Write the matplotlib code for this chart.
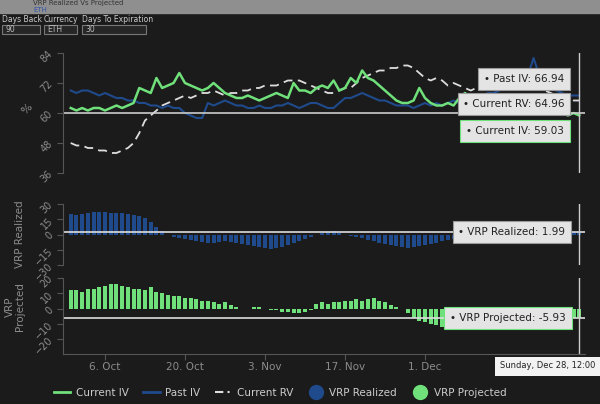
import matplotlib
matplotlib.use("Agg")
import matplotlib.pyplot as plt
import numpy as np
import pandas as pd
from matplotlib.patches import Rectangle
from matplotlib.lines import Line2D

dates = pd.date_range("2025-09-30", periods=90, freq="D")
tick_days = [6, 20, 34, 48, 62]
tick_labels = ["6. Oct", "20. Oct", "3. Nov", "17. Nov", "1. Dec"]

current_iv = [62,61,62,61,62,62,61,62,63,62,63,64,70,69,68,74,70,71,72,76,72,71,70,69,70,72,70,68,67,66,
              66,67,66,65,66,67,68,67,66,72,69,69,68,70,71,70,73,69,70,74,72,77,74,73,71,69,67,65,64,64,
              65,70,66,64,63,63,64,63,66,68,66,64,64,63,63,64,66,65,64,66,64,63,64,62,62,61,60,59,60,59]
past_iv = [69,68,69,69,68,67,68,67,66,66,65,65,64,64,63,63,62,63,62,62,60,59,58,58,64,63,64,65,64,63,
           63,62,62,63,62,62,63,63,64,63,62,63,64,64,63,62,62,64,66,66,67,68,67,66,65,65,64,63,63,63,
           62,63,64,63,64,63,64,65,64,65,66,67,67,68,68,69,70,70,71,72,75,82,75,71,70,69,68,67,67,67]
current_rv = [48,47,47,46,46,45,45,44,44,45,46,48,52,57,59,61,63,64,65,66,67,66,67,68,68,69,68,67,68,68,
              69,69,70,70,71,71,71,72,73,73,73,72,71,70,69,68,68,69,70,70,72,74,75,76,77,77,78,78,79,79,
              78,76,74,73,74,73,71,72,71,70,69,70,71,72,73,74,75,75,74,73,72,71,70,69,68,67,66,66,65,65]
vrp_realized = [20,19,20,21,22,22,22,21,21,21,20,19,18,16,12,7,3,0,-2,-3,-4,-5,-6,-7,-8,-8,-7,-6,-7,-8,
                -9,-10,-11,-12,-13,-14,-13,-12,-10,-8,-6,-4,-2,0,1,2,3,1,0,-1,-2,-3,-5,-6,-8,-9,-10,-11,-12,-13,
                -12,-11,-10,-9,-8,-6,-5,-4,-4,-3,-2,-1,0,1,2,3,2,1,2,3,2,1,2,1,2,2,2,2,2,2]
vrp_projected = [12,12,11,13,13,14,15,16,16,15,14,13,13,12,14,11,10,9,8,8,7,7,6,5,5,4,3,4,2,1,
                 0,0,1,1,0,-1,-1,-2,-2,-3,-3,-2,-1,3,4,3,4,4,5,5,6,5,6,7,5,4,2,1,0,-3,
                 -6,-8,-9,-10,-11,-12,-10,-9,-7,-6,-6,-5,-5,-6,-5,-6,-6,-7,-6,-6,-6,-5,-6,-6,-6,-6,-5,-6,-6,-6]
tooltips = ["Past IV: 66.94", "Current RV: 64.96", "Current IV: 59.03",
            "VRP Realized: 1.99", "VRP Projected: -5.93"]

BG = "#1b1b1b"; GREEN = "#6fe07a"; BLUE = "#1f4a8c"; GRAY = "#8c8c8c"
W, H = 600, 404
fig = plt.figure(figsize=(6, 4.04), dpi=100, facecolor=BG)
x = np.arange(len(dates))

def ax_at(top, bottom):
    return fig.add_axes([63 / W, 1 - bottom / H, (585 - 63) / W, (bottom - top) / H])

def style(ax):
    ax.set_facecolor("none")
    for s in ["top", "right", "bottom"]:
        ax.spines[s].set_visible(False)
    ax.spines["left"].set_color("#555555")
    ax.tick_params(colors="#555555", labelcolor=GRAY, labelsize=7, length=4, pad=2)
    for lab in ax.get_yticklabels():
        lab.set_rotation(45)
    ax.set_xlim(-1.35, 90)
    ax.set_xticks([])

ax1 = ax_at(53, 173)
ax1.plot(x, current_rv, color="#dddddd", lw=1.3, ls=(0, (5, 3)))
ax1.plot(x, past_iv, color=BLUE, lw=1.5)
ax1.plot(x, current_iv, color=GREEN, lw=1.8)
ax1.axhline(60, color="#cccccc", lw=1.2)
ax1.set_ylim(36, 84); ax1.set_yticks([36, 48, 60, 72, 84])
style(ax1)
ax1.set_ylabel("%", color=GRAY, fontsize=8, rotation=45)

ax2 = ax_at(204, 265)
ax2.bar(x, vrp_realized, width=0.7, color=BLUE)
ax2.axhline(1.99, color="#dddddd", lw=1.2)
ax2.set_ylim(-30, 30); ax2.set_yticks([-30, -15, 0, 15, 30])
style(ax2)
ax2.set_ylabel("VRP Realized", color=GRAY, fontsize=7.5)

ax3 = ax_at(278, 354)
ax3.bar(x, vrp_projected, width=0.7, color=GREEN)
ax3.axhline(-5.93, color="#dddddd", lw=1.2)
ax3.set_ylim(-29.8, 20); ax3.set_yticks([-20, -10, 0, 10, 20])
style(ax3)
ax3.spines["bottom"].set_visible(True); ax3.spines["bottom"].set_color("#555555")
ax3.set_xticks(tick_days); ax3.set_xticklabels(tick_labels, color=GRAY, fontsize=7.5)
ax3.set_ylabel("VRP\nProjected", color=GRAY, fontsize=7.5, linespacing=1.0)
ax1.yaxis.set_label_coords(-0.062, 0.5)
ax2.yaxis.set_label_coords(-0.072, 0.5)
ax3.yaxis.set_label_coords(-0.072, 0.62)
for a in (ax1, ax2, ax3):
    a.axvline(89, color="#cccccc", lw=1)

# header
fig.patches.append(Rectangle((0, 1 - 13 / H), 1, 13 / H, transform=fig.transFigure, color="#8f8f8f"))
fig.text(33 / W, 1 - 3.5 / H, "VRP Realized Vs Projected", color="#333333", fontsize=5, va="center")
fig.text(33 / W, 1 - 9.5 / H, "ETH", color="#3355aa", fontsize=5, va="center")
for lx, lab, val, w in [(2, "Days Back", "90", 38), (44, "Currency", "ETH", 33), (82, "Days To Expiration", "30", 64)]:
    fig.text(lx / W, 1 - 19 / H, lab, color="#cccccc", fontsize=5.5, va="center")
    fig.patches.append(Rectangle((lx / W, 1 - 34 / H), w / W, 9 / H, transform=fig.transFigure,
                                 facecolor="#262626", edgecolor="#777777", lw=0.8))
    fig.text((lx + 3) / W, 1 - 29.5 / H, val, color="#bbbbbb", fontsize=5.5, va="center")

# tooltips
box = dict(boxstyle="square,pad=0.55", facecolor="#e4e4e4", lw=0.8)
tips = [(524, 79, tooltips[0], BLUE, "#999999"), (514, 104, tooltips[1], "#999999", "#999999"),
        (515, 131, tooltips[2], GREEN, GREEN), (512, 232, tooltips[3], BLUE, "#999999"),
        (508, 318, tooltips[4], GREEN, GREEN)]
for tx, ty, t, dc, ec in tips:
    b = dict(box); b["edgecolor"] = ec
    fig.text(tx / W, 1 - ty / H, "\u2022 " + t, color="#222222", fontsize=7.5, ha="center", va="center", bbox=b)
fig.text(548 / W, 1 - 366 / H, "Sunday, Dec 28, 12:00", color="#222222", fontsize=6, ha="center", va="center",
         bbox=dict(boxstyle="square,pad=0.6", facecolor="#f2f2f2", edgecolor="none"))

handles = [Line2D([], [], color=GREEN, lw=2), Line2D([], [], color=BLUE, lw=2),
           Line2D([], [], color="#dddddd", lw=1.5, ls=(0, (4, 2, 1, 2))),
           Line2D([], [], marker="o", ls="", color=BLUE, markersize=10),
           Line2D([], [], marker="o", ls="", color=GREEN, markersize=10)]
fig.legend(handles, ["Current IV", "Past IV", "Current RV", "VRP Realized", "VRP Projected"],
           loc="center", bbox_to_anchor=(280 / W, 1 - 393 / H), ncol=5, frameon=False,
           labelcolor="#cccccc", fontsize=7.5, handlelength=1.6, columnspacing=1.4, handletextpad=0.5)

fig.savefig("out.png", dpi=100, facecolor=BG)
